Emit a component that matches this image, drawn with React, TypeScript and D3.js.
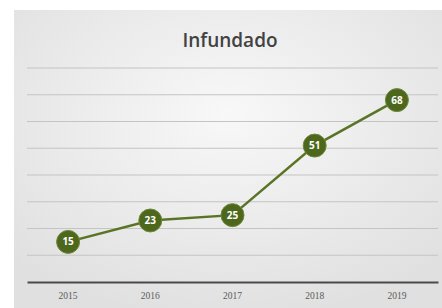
import React, { useEffect, useRef } from 'react';
import * as d3 from 'd3';

const years = ['2015', '2016', '2017', '2018', '2019'];
const values = [15, 23, 25, 51, 68];
const yTicks = [0, 10, 20, 30, 40, 50, 60, 70, 80];
const title = 'Infundado';

export default function App() {
  const ref = useRef<SVGSVGElement | null>(null);

  useEffect(() => {
    const W = 442;
    const H = 308;
    const margin = { left: 27, right: 4, top: 68, bottom: 26 };
    const svg = d3.select(ref.current);
    svg.selectAll('*').remove();

    const defs = svg.append('defs');
    const grad = defs
      .append('radialGradient')
      .attr('id', 'bg')
      .attr('cx', '50%')
      .attr('cy', '35%')
      .attr('r', '70%');
    grad.append('stop').attr('offset', '0%').attr('stop-color', '#f8f8f8');
    grad.append('stop').attr('offset', '100%').attr('stop-color', '#e0e0e0');

    svg.append('rect').attr('width', W).attr('height', H).attr('fill', '#ffffff');
    svg
      .append('rect')
      .attr('x', 14)
      .attr('y', 10)
      .attr('width', W - 14)
      .attr('height', H - 10)
      .attr('fill', 'url(#bg)');

    const x = d3
      .scaleBand()
      .domain(years)
      .range([margin.left, W - margin.right]);
    const y = d3
      .scaleLinear()
      .domain([0, 80])
      .range([H - margin.bottom, margin.top]);

    // gridlines
    svg
      .append('g')
      .selectAll('line')
      .data(yTicks.slice(1))
      .join('line')
      .attr('x1', margin.left)
      .attr('x2', W - margin.right)
      .attr('y1', (d) => y(d))
      .attr('y2', (d) => y(d))
      .attr('stroke', '#c4c4c4')
      .attr('stroke-width', 1.2);

    // axis
    const axisG = svg
      .append('g')
      .attr('transform', `translate(0,${y(0)})`)
      .call(d3.axisBottom(x).tickSize(0).tickPadding(10));
    axisG.select('.domain').attr('stroke', '#4a4a4a').attr('stroke-width', 2);
    axisG
      .selectAll('text')
      .attr('fill', '#5a5a5a')
      .attr('font-size', '9.5px')
      .attr('font-family', 'Liberation Serif, serif');

    // title
    svg
      .append('text')
      .attr('x', 230)
      .attr('y', 47)
      .attr('text-anchor', 'middle')
      .attr('fill', '#424242')
      .attr('font-size', '19px')
      .attr('font-weight', 600)
      .attr('font-family', 'Open Sans, sans-serif')
      .text(title);

    const cx = (i: number) => (x(years[i]) as number) + x.bandwidth() / 2;

    const line = d3
      .line<number>()
      .x((_, i) => cx(i))
      .y((d) => y(d));

    svg
      .append('path')
      .datum(values)
      .attr('d', line)
      .attr('fill', 'none')
      .attr('stroke', '#5a7426')
      .attr('stroke-width', 2.5);

    const pts = svg
      .append('g')
      .selectAll('g')
      .data(values)
      .join('g')
      .attr('transform', (d, i) => `translate(${cx(i)},${y(d)})`);

    pts
      .append('circle')
      .attr('r', 11.5)
      .attr('fill', '#4d671c')
      .attr('stroke', '#6f8a3a')
      .attr('stroke-width', 1);

    pts
      .append('text')
      .attr('text-anchor', 'middle')
      .attr('dy', '0.35em')
      .attr('fill', '#ffffff')
      .attr('font-size', '10px')
      .attr('font-weight', 'bold')
      .attr('font-family', 'Open Sans, sans-serif')
      .text((d) => d);
  }, []);

  return (
    <svg
      ref={ref}
      width={442}
      height={308}
      style={{ position: 'absolute', left: 0, top: 0 }}
    />
  );
}
